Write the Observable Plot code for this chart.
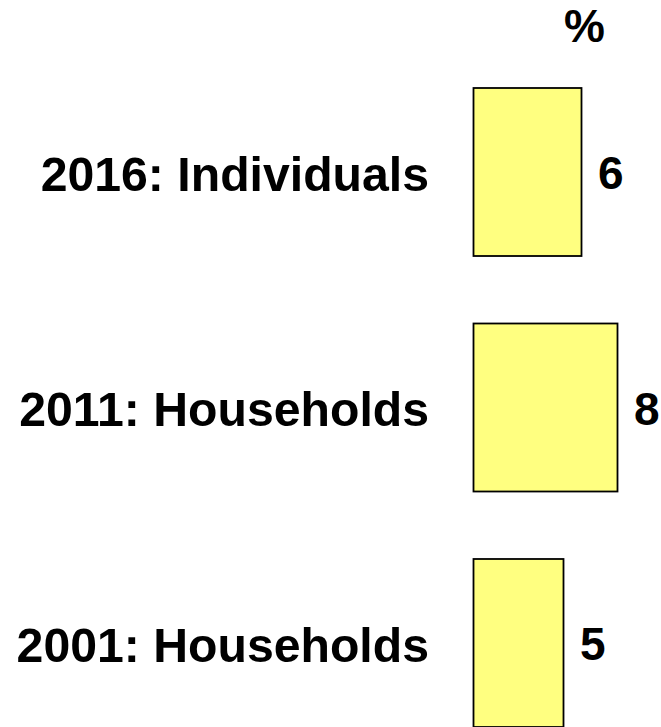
<!DOCTYPE html>
<html><head><meta charset="utf-8">
<script src="https://cdn.jsdelivr.net/npm/d3@7"></script>
<script src="https://cdn.jsdelivr.net/npm/@observablehq/plot@0.6"></script>
<style>body{margin:0;background:#fff}</style>
</head><body><div id="chart"></div>
<script>
const categories = ["2016: Individuals", "2011: Households", "2001: Households"];
const values = [6, 8, 5];
const unitLabel = ["%"];

const data = categories.map((c, i) => ({category: c, value: values[i]}));
const font = "'Liberation Sans', Arial, Helvetica, sans-serif";

const chart = Plot.plot({
  width: 661, height: 727,
  marginLeft: 473.5, marginRight: 7.5, marginTop: 88, marginBottom: 0,
  style: {fontFamily: font, background: "#fff", color: "#000", overflow: "visible"},
  x: {domain: [0, 10], axis: null},
  y: {domain: categories, paddingInner: 0.2866, paddingOuter: 0, round: false, label: null},
  marks: [
    Plot.barX(data, {x: "value", y: "category", fill: "#FFFF80", stroke: "#000", strokeWidth: 1.8}),
    Plot.text(data, {x: "value", y: "category", text: d => String(d.value), textAnchor: "start",
      dx: 16, dy: 2, fontSize: 46, fontWeight: "bold", fill: "#000"}),
    Plot.axisY({tickSize: 0, tickPadding: 45, fontSize: 48.2, fontWeight: "bold", label: null, dy: 3}),
    Plot.text(unitLabel, {text: d => d, frameAnchor: "top-left", lineAnchor: "middle", dx: 110.5, dy: -61,
      textAnchor: "middle", fontSize: 46, fontWeight: "bold", fill: "#000"})
  ]
});
document.getElementById("chart").appendChild(chart);
</script>
</body></html>
